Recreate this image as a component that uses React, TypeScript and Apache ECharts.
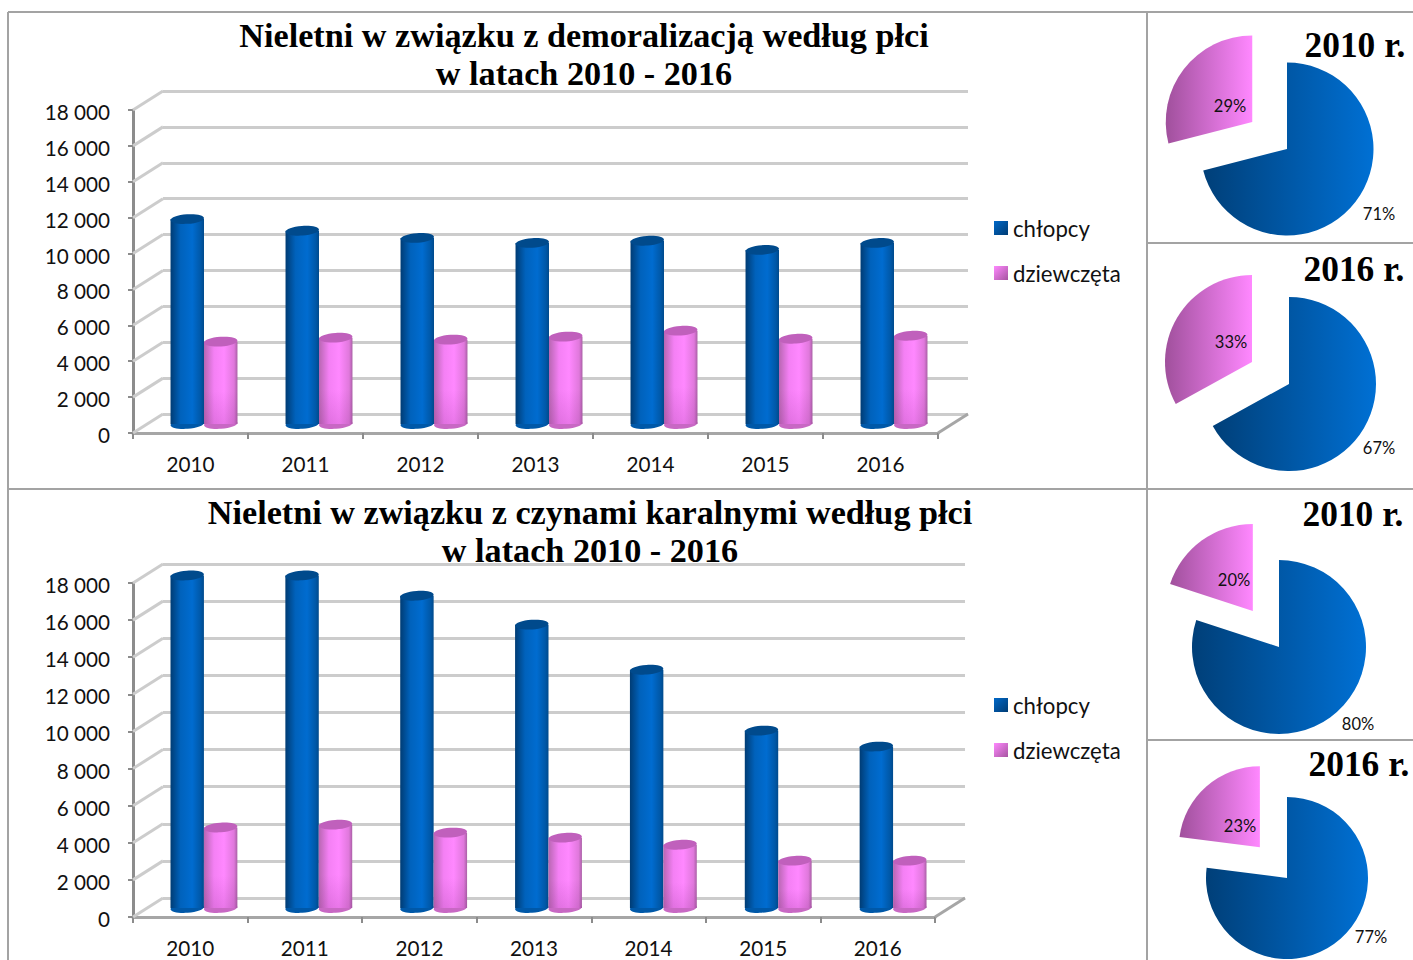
import React, { useEffect, useRef } from "react";
import * as echarts from "echarts";

const categories = ["2010", "2011", "2012", "2013", "2014", "2015", "2016"];
const yTicks = [0, 2000, 4000, 6000, 8000, 10000, 12000, 14000, 16000, 18000];
const demoBoys = [11420, 10770, 10370, 10090, 10210, 9700, 10090];
const demoGirls = [4590, 4810, 4700, 4870, 5200, 4750, 4920];
const crimeBoys = [17920, 17920, 16830, 15270, 12840, 9560, 8700];
const crimeGirls = [4340, 4490, 4060, 3790, 3410, 2550, 2550];
const pieDemo2010 = [71, 29];
const pieDemo2016 = [67, 33];
const pieCrime2010 = [80, 20];
const pieCrime2016 = [77, 23];
const seriesNames = ["chłopcy", "dziewczęta"];

const LABEL_FONT = "Lato";
const TITLE_FONT = "Liberation Serif";
const DX = 30;
const DY = -19;

const grad = (x2: number, y2: number, stops: [number, string][]) =>
  new echarts.graphic.LinearGradient(0, 0, x2, y2, stops.map(([offset, color]) => ({ offset, color })));

const blueBody = () => grad(1, 0, [[0, "#003c74"], [0.3, "#0062bc"], [0.65, "#006cd0"], [0.9, "#0058a8"], [1, "#004a8c"]]);
const pinkBody = () => grad(1, 0, [[0, "#b866b2"], [0.3, "#f480f4"], [0.6, "#ff88ff"], [0.9, "#e078dc"], [1, "#aa60a6"]]);
const pinkShade = () => grad(0, 1, [[0, "rgba(120,30,120,0)"], [0.6, "rgba(120,30,120,0)"], [1, "rgba(120,30,120,0.16)"]]);

function cylinder(api: any, seriesIdx: number) {
  const cat = api.value(0);
  const val = api.value(1);
  const top = api.coord([cat, val]);
  const base = api.coord([cat, 0]);
  const band = api.size([1, 0])[0];
  const w = band * 0.291;
  const cx = top[0] + (seriesIdx === 0 ? -w / 2 : w / 2);
  const rx = w / 2;
  const ry = 4.8;
  const rot = 0.07;
  const body = seriesIdx === 0 ? blueBody() : pinkBody();
  const rectShape = { x: cx - rx, y: top[1], width: w, height: base[1] - top[1] };
  const children: any[] = [
    { type: "ellipse", x: cx, y: base[1], rotation: rot, shape: { cx: 0, cy: 0, rx, ry }, style: { fill: seriesIdx === 0 ? "#0058a8" : "#c868c4" } },
    { type: "rect", shape: rectShape, style: { fill: body } },
  ];
  if (seriesIdx === 1) children.push({ type: "rect", shape: rectShape, style: { fill: pinkShade() } });
  children.push({ type: "ellipse", x: cx, y: top[1], rotation: rot, shape: { cx: 0, cy: 0, rx, ry }, style: { fill: seriesIdx === 0 ? "#004a8c" : "#c060bc" } });
  return { type: "group", children };
}

function buildChart(i: number, left: number, top: number, width: number, height: number, barWidthExtra: number, boys: number[], girls: number[]) {
  const g = i * 3;
  const grid = [
    { left, top, width, height },
    { left: left + DX, top: top + DY, width, height },
    { left: left + DX / 2 - 1.5, top: top + DY / 2 + 0.5, width: width + barWidthExtra, height },
  ];
  const xAxis: any[] = [
    {
      type: "category", gridIndex: g, data: categories,
      axisLine: { show: true, lineStyle: { color: "#a6a6a6", width: 3 } },
      axisTick: { show: true, alignWithLabel: false, length: 6, lineStyle: { color: "#8c8c8c", width: 2 } },
      axisLabel: { color: "#111", fontFamily: LABEL_FONT, fontSize: 20.7, margin: 20 },
    },
    { type: "category", gridIndex: g + 1, data: categories, show: false },
    { type: "category", gridIndex: g + 2, data: categories, show: false },
  ];
  const yBase = { type: "value", min: 0, max: 18000, interval: 2000 };
  const yAxis: any[] = [
    {
      ...yBase, gridIndex: g,
      axisLine: { show: true, lineStyle: { color: "#8c8c8c", width: 3 } },
      axisTick: { show: true, length: 5, lineStyle: { color: "#8c8c8c", width: 2 } },
      axisLabel: {
        margin: 23,
        formatter: (v: number) => `{n|${String(v).replace(/\B(?=(\d{3})+$)/g, " ")}}`,
        rich: { n: { color: "#111", fontFamily: LABEL_FONT, fontSize: 20.7, padding: [4, 0, 0, 0] } },
      },
      splitLine: { show: false },
    },
    {
      ...yBase, gridIndex: g + 1,
      axisLine: { show: false }, axisTick: { show: false }, axisLabel: { show: false },
      splitLine: { show: true, lineStyle: { color: "#cccccc", width: 3 } },
    },
    { ...yBase, gridIndex: g + 2, show: false, splitLine: { show: false } },
  ];
  const series: any[] = [
    {
      type: "custom", name: "depth", xAxisIndex: g, yAxisIndex: g, silent: true, z: 1,
      data: yTicks.map((v) => [categories[0], v]),
      renderItem: (_p: any, api: any) => {
        const c = api.coord([api.value(0), api.value(1)]);
        const x = c[0] - api.size([1, 0])[0] / 2;
        return { type: "line", shape: { x1: x, y1: c[1], x2: x + DX, y2: c[1] + DY }, style: { stroke: "#cccccc", lineWidth: 3 } };
      },
    },
    {
      type: "custom", name: "floor", xAxisIndex: g, yAxisIndex: g, silent: true, z: 1,
      data: [[categories[6], 0]],
      renderItem: (_p: any, api: any) => {
        const c = api.coord([api.value(0), api.value(1)]);
        const x = c[0] + api.size([1, 0])[0] / 2;
        return { type: "line", shape: { x1: x, y1: c[1], x2: x + DX, y2: c[1] + DY }, style: { stroke: "#a6a6a6", lineWidth: 3 } };
      },
    },
    {
      type: "custom", name: seriesNames[0], xAxisIndex: g + 2, yAxisIndex: g + 2, z: 3,
      itemStyle: { color: grad(1, 1, [[0, "#0068c8"], [1, "#003c74"]]) },
      data: boys.map((v, k) => [categories[k], v]),
      renderItem: (_p: any, api: any) => cylinder(api, 0),
    },
    {
      type: "custom", name: seriesNames[1], xAxisIndex: g + 2, yAxisIndex: g + 2, z: 4,
      itemStyle: { color: grad(1, 1, [[0, "#ff88ff"], [1, "#a655a0"]]) },
      data: girls.map((v, k) => [categories[k], v]),
      renderItem: (_p: any, api: any) => cylinder(api, 1),
    },
  ];
  return { grid, xAxis, yAxis, series };
}

function buildPie(values: number[], center: [number, number], radius: number, offset: number) {
  return {
    type: "pie",
    center,
    radius,
    startAngle: 90,
    selectedMode: "multiple",
    selectedOffset: offset,
    silent: true,
    z: 2,
    label: { show: false },
    labelLine: { show: false },
    data: [
      { name: seriesNames[0], value: values[0], itemStyle: { color: grad(1, 0, [[0, "#003f78"], [1, "#0070d4"]]) } },
      { name: seriesNames[1], value: values[1], selected: true, itemStyle: { color: grad(1, 0, [[0, "#a0509c"], [1, "#ff88ff"]]) } },
    ],
  };
}

const pieText = (value: number, x: number, y: number) => ({
  type: "text", x, y, z: 10,
  style: { text: `${value}%`, fill: "#111", font: `16.5px ${LABEL_FONT}`, textAlign: "center", textVerticalAlign: "middle", verticalAlign: "middle", align: "center" },
});

const titleStyle = (size: number) => ({ fontFamily: TITLE_FONT, fontWeight: "bold" as const, fontSize: size, color: "#000", lineHeight: 38 });
const legendOpt = (top: number) => ({
  data: seriesNames, orient: "vertical", left: 994, top, padding: 0, itemGap: 23, itemWidth: 14, itemHeight: 14, icon: "rect", selectedMode: false,
  textStyle: { fontFamily: LABEL_FONT, fontSize: 22.2, color: "#111" },
});

export default function App() {
  const ref = useRef<HTMLDivElement>(null);
  useEffect(() => {
    const chart = echarts.init(ref.current!, undefined, { renderer: "svg" });
    const a = buildChart(0, 133, 110, 805, 323, 0, demoBoys, demoGirls);
    const b = buildChart(1, 133, 583, 802, 334, 2, crimeBoys, crimeGirls);
    const panelLine = { stroke: "#a3a3a3", lineWidth: 2 };
    const line = (x1: number, y1: number, x2: number, y2: number) => ({ type: "line", z: 0, shape: { x1, y1, x2, y2 }, style: panelLine });
    chart.setOption({
      animation: false,
      backgroundColor: "#fff",
      title: [
        { text: "Nieletni w związku z demoralizacją według płci\nw latach 2010 - 2016", left: 584, top: 16, textAlign: "center", padding: 0, textStyle: titleStyle(34.2) },
        { text: "Nieletni w związku z czynami karalnymi według płci\nw latach 2010 - 2016", left: 590, top: 493, textAlign: "center", padding: 0, textStyle: titleStyle(34.2) },
        { text: "2010 r.", left: 1355, top: 26, textAlign: "center", padding: 0, textStyle: titleStyle(35.4) },
        { text: "2016 r.", left: 1354, top: 250, textAlign: "center", padding: 0, textStyle: titleStyle(35.4) },
        { text: "2010 r.", left: 1353, top: 495, textAlign: "center", padding: 0, textStyle: titleStyle(35.4) },
        { text: "2016 r.", left: 1359, top: 745, textAlign: "center", padding: 0, textStyle: titleStyle(35.4) },
      ],
      legend: [legendOpt(217), legendOpt(694)],
      grid: [...a.grid, ...b.grid],
      xAxis: [...a.xAxis, ...b.xAxis],
      yAxis: [...a.yAxis, ...b.yAxis],
      series: [
        ...a.series,
        ...b.series,
        buildPie(pieDemo2016, [1289, 384], 87, 43),
        buildPie(pieDemo2010, [1287, 149], 86.5, 44),
        buildPie(pieCrime2010, [1279, 647], 87, 44.5),
        buildPie(pieCrime2016, [1287, 878], 81, 41),
      ],
      graphic: [
        line(8, 12, 1413, 12),
        line(8, 12, 8, 960),
        line(1147, 12, 1147, 960),
        line(8, 489, 1413, 489),
        line(1147, 243, 1413, 243),
        line(1147, 740, 1413, 740),
        pieText(pieDemo2010[0], 1379, 214),
        pieText(pieDemo2010[1], 1230, 106),
        pieText(pieDemo2016[0], 1379, 448),
        pieText(pieDemo2016[1], 1231, 342),
        pieText(pieCrime2010[0], 1358, 724),
        pieText(pieCrime2010[1], 1234, 580),
        pieText(pieCrime2016[0], 1371, 937),
        pieText(pieCrime2016[1], 1240, 826),
      ],
    });
    return () => chart.dispose();
  }, []);
  return <div ref={ref} style={{ position: "absolute", left: 0, top: 0, width: 1413, height: 960 }} />;
}
